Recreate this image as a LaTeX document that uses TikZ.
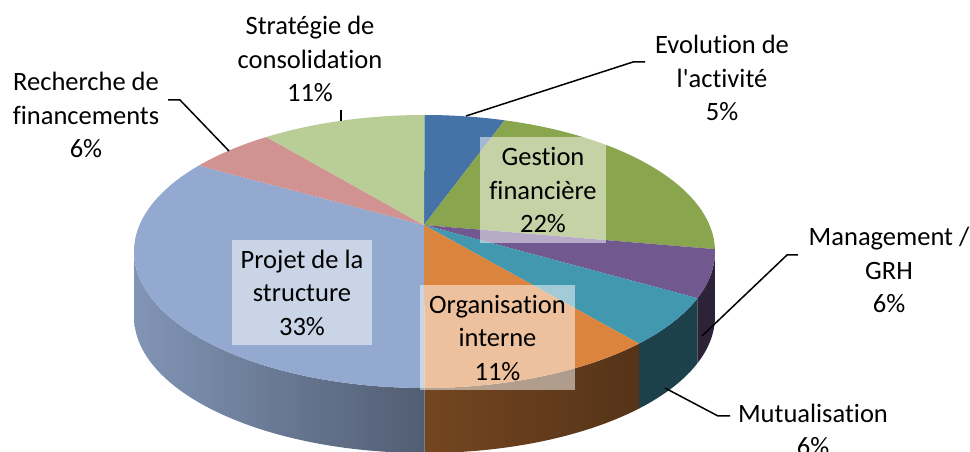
\documentclass[tikz,border=0pt]{standalone}
\usepackage{fontspec}
\setmainfont{Carlito}[Ligatures={NoCommon}]
\definecolor{cEvo}{HTML}{4572A7}
\definecolor{cGest}{HTML}{89A54E}
\definecolor{cMan}{HTML}{71588F}
\definecolor{cMut}{HTML}{4198AF}
\definecolor{cOrg}{HTML}{DB843D}
\definecolor{cProj}{HTML}{93A9CF}
\definecolor{cRech}{HTML}{D19392}
\definecolor{cStrat}{HTML}{B9CD96}
\newcommand{\pieslice}[3]{\fill[#3] (apex) -- ([shift={(#1:290.5 and 136.5)}]ctr) arc[start angle=#1,end angle=#2,x radius=290.5,y radius=136.5] -- cycle;}
\newcommand{\pieside}[3]{\path[#3] ([shift={(#1:290.5 and 136.5)}]ctr) arc[start angle=#1,end angle=#2,x radius=290.5,y radius=136.5] -- ++(0,-65) arc[start angle=#2,end angle=#1,x radius=290.5,y radius=136.5] -- cycle;}
\newcommand{\leader}[3]{\draw[line width=1.5] (#1) -- (#2) -- (#3);}

\begin{document}
\begin{tikzpicture}[x=1pt,y=1pt,
    lbl/.style={align=center,inner sep=0,font=\fontsize{26.5}{33.5}\selectfont},
    inbox/.style={lbl,fill=white,fill opacity=0.5,text opacity=1}]
    \useasboundingbox (0,0) rectangle (970,452);
    \coordinate (ctr) at (424.5,200.5); \coordinate (apex) at (424,227);
    \pieside{1}{-20}{fill=cMan!40!black}
    \pieside{-20}{-42.4}{fill=cMut!43!black}
    \pieside{-42.4}{-90}{left color=cOrg!53!black,right color=cOrg!39!black}
    \pieside{-90}{-180}{left color=cProj!88!black,right color=cProj!55!black}
    \pieslice{90}{74}{cEvo}    \pieslice{74}{1}{cGest}
    \pieslice{1}{-20}{cMan}    \pieslice{-20}{-42.4}{cMut}
    \pieslice{-42.4}{-90}{cOrg}    \pieslice{-90}{-219}{cProj}
    \pieslice{141}{123}{cRech}    \pieslice{123}{90}{cStrat}
    \node[inbox,minimum width=126,minimum height=106] (gest) at (543,262) {Gestion\\financière\\22\%};
    \node[inbox,minimum width=140,minimum height=105] (proj) at (302,159.5) {Projet de la\\structure\\33\%};
    \node[inbox,minimum width=155,minimum height=105] (org) at (497.5,114.5) {Organisation\\interne\\11\%};
    \node[lbl] (strat) at (310,393) {Stratégie de\\consolidation\\11\%};
    \node[lbl] (rech) at (86,337) {Recherche de\\financements\\6\%};
    \node[lbl] (evo) at (722,374) {Evolution de\\l\textquotesingle activité\\5\%};
    \node[lbl] (man) at (889,182) {Management /\\GRH\\6\%};
    \node[lbl] (mut) at (813,22) {Mutualisation\\6\%};
    \coordinate (stratA) at (341,342); \coordinate (stratB) at (341,331);
    \coordinate (rechA) at (168,352); \coordinate (rechB) at (180,352); \coordinate (rechC) at (229,301);
    \coordinate (evoA) at (645,390); \coordinate (evoB) at (633,390); \coordinate (evoC) at (466,336);
    \coordinate (manA) at (798,197); \coordinate (manB) at (787,197); \coordinate (manC) at (702,116);
    \coordinate (mutA) at (730,36); \coordinate (mutB) at (718,36); \coordinate (mutC) at (665,64);
    \draw[line width=1.5] (stratA) -- (stratB);
    \leader{rechA}{rechB}{rechC}\leader{evoA}{evoB}{evoC}
    \leader{manA}{manB}{manC}\leader{mutA}{mutB}{mutC}
\end{tikzpicture}
\end{document}
